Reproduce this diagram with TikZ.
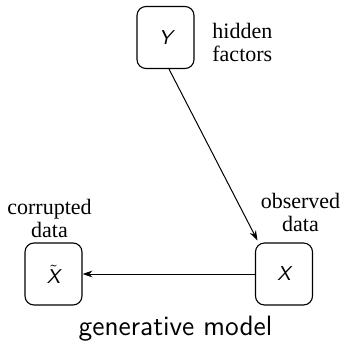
\documentclass[tikz,border=0pt]{standalone}
\usepackage{fontspec}
\newfontfamily\labelfont{Liberation Serif}
\usetikzlibrary{arrows.meta}
\begin{document}
\begin{tikzpicture}[x=0.5pt,y=-0.5pt,
  varbox/.style={draw, line width=0.55pt, rounded corners=4.5pt, minimum width=28.5pt, minimum height=31pt, inner sep=0pt, font=\fontsize{10}{12}\sffamily\itshape},
  lbl/.style={inner sep=0pt, align=center, font=\labelfont\fontsize{11}{11.5}\selectfont},
  conn/.style={line width=0.5pt, -{Stealth[length=5pt,width=3.4pt]}}]
\useasboundingbox (0,0) rectangle (343,343);
\node[varbox] (Y) at (165.5,37.5) {Y};
\node[varbox] (Xt) at (53.5,274) {$\tilde{\mbox{\sffamily\itshape X}}$};
\node[varbox] (X) at (284,274) {X};
\node[lbl, align=left, anchor=west] (hid) at (212,42) {hidden\\factors};
\node[lbl] (cor) at (49.5,218) {corrupted\\data};
\node[lbl] (obs) at (300.5,212) {observed\\data};
\node[inner sep=0pt, anchor=base, font=\fontsize{14}{16}\sffamily] (gen) at (175.5,335) {generative model};
\draw[conn] ([xshift=1.75pt]Y.south) -- ([xshift=1.25pt,yshift=1pt]X.north west);
\draw[conn] (X.west) -- (Xt.east);
\end{tikzpicture}
\end{document}
